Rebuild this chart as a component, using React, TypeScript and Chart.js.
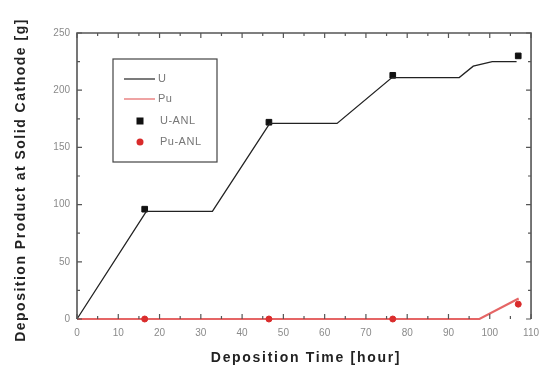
import React, { useEffect, useRef } from "react";
import { Chart, registerables } from "chart.js";

Chart.register(...registerables);

const uTime = [0, 16.8, 32.8, 46.7, 63, 76.3, 92.6, 96, 100.6, 106.5];
const uMass = [0, 94, 94, 171, 171, 211, 211, 221, 225, 225];
const puTime = [0, 97.5, 107];
const puMass = [0, 0, 18];
const anlTime = [16.4, 46.5, 76.5, 106.9];
const uAnl = [96, 172, 213, 230];
const puAnl = [0, 0, 0, 13];
const xTicks = [0, 10, 20, 30, 40, 50, 60, 70, 80, 90, 100, 110];
const yTicks = [0, 50, 100, 150, 200, 250];
const xTitle = "Deposition Time [hour]";
const yTitle = "Deposition Product at Solid Cathode [g]";

const FONT = "'Liberation Sans', Arial, sans-serif";

const zip = (xs: number[], ys: number[]) => xs.map((x, i) => ({ x, y: ys[i] }));

const framePlugin = {
  id: "frame",
  afterDatasetsDraw(chart: any) {
    const { ctx, chartArea: a, scales } = chart;
    const xs = scales.x;
    const ys = scales.y;
    ctx.save();
    ctx.strokeStyle = "#555";
    ctx.lineWidth = 1.2;
    ctx.beginPath();
    for (let v = 0; v <= 110; v += 5) {
      const px = xs.getPixelForValue(v);
      const len = v % 10 === 0 ? 5 : 3;
      ctx.moveTo(px, a.bottom);
      ctx.lineTo(px, a.bottom - len);
      ctx.moveTo(px, a.top);
      ctx.lineTo(px, a.top + len);
    }
    for (let v = 0; v <= 250; v += 25) {
      const py = ys.getPixelForValue(v);
      const len = v % 50 === 0 ? 5 : 3;
      ctx.moveTo(a.left, py);
      ctx.lineTo(a.left + len, py);
      ctx.moveTo(a.right, py);
      ctx.lineTo(a.right - len, py);
    }
    ctx.stroke();
    ctx.lineWidth = 1.6;
    ctx.beginPath();
    ctx.moveTo(a.left, a.bottom);
    ctx.lineTo(a.left, a.top);
    ctx.lineTo(a.right, a.top);
    ctx.lineTo(a.right, a.bottom);
    ctx.stroke();
    ctx.restore();
  },
  afterDraw(chart: any) {
    const { ctx, chartArea: a } = chart;
    ctx.save();
    ctx.fillStyle = "#222";
    ctx.font = `bold 14px ${FONT}`;
    (ctx as any).letterSpacing = "1.7px";
    ctx.textAlign = "center";
    ctx.textBaseline = "middle";
    ctx.fillText(xTitle, 306, 358);
    (ctx as any).letterSpacing = "1.5px";
    ctx.translate(21, 180);
    ctx.rotate(-Math.PI / 2);
    ctx.fillText(yTitle, 0, 0);
    ctx.restore();

    ctx.save();
    const bx = 113, by = 59, bw = 104, bh = 103;
    ctx.strokeStyle = "#444";
    ctx.lineWidth = 1.2;
    ctx.strokeRect(bx, by, bw, bh);
    const rows = [79, 99, 121, 142];
    ctx.font = `11px ${FONT}`;
    (ctx as any).letterSpacing = "0.5px";
    ctx.textBaseline = "middle";
    ctx.textAlign = "left";
    chart.data.datasets.forEach((ds: any, i: number) => {
      const y = rows[i];
      if (ds.showLine) {
        ctx.strokeStyle = ds.borderColor;
        ctx.lineWidth = 1.2;
        ctx.beginPath();
        ctx.moveTo(124, y);
        ctx.lineTo(155, y);
        ctx.stroke();
        ctx.fillStyle = "#777";
        ctx.fillText(ds.label, 158, y);
      } else {
        ctx.fillStyle = ds.backgroundColor;
        if (ds.pointStyle === "rect") {
          ctx.fillRect(136.5, y - 3.5, 7, 7);
        } else {
          ctx.beginPath();
          ctx.arc(140, y, 3.5, 0, Math.PI * 2);
          ctx.fill();
        }
        ctx.fillStyle = "#777";
        ctx.fillText(ds.label, 160, y);
      }
    });
    ctx.restore();
  },
};

export default function App() {
  const ref = useRef<HTMLCanvasElement>(null);
  useEffect(() => {
    document.body.style.margin = "0";
    const chart = new Chart(ref.current as HTMLCanvasElement, {
      type: "scatter",
      data: {
        datasets: [
          {
            label: "U",
            data: zip(uTime, uMass),
            showLine: true,
            borderColor: "#222",
            borderWidth: 1.3,
            pointRadius: 0,
            clip: 6,
          } as any,
          {
            label: "Pu",
            data: zip(puTime, puMass),
            showLine: true,
            borderColor: "rgba(220,50,50,0.75)",
            borderWidth: 2.2,
            pointRadius: 0,
            clip: 6,
          },
          {
            label: "U-ANL",
            data: zip(anlTime, uAnl),
            showLine: false,
            pointStyle: "rect",
            pointRadius: 4,
            backgroundColor: "#111",
            borderColor: "#111",
            clip: 8,
          },
          {
            label: "Pu-ANL",
            data: zip(anlTime, puAnl),
            showLine: false,
            pointStyle: "circle",
            pointRadius: 3,
            backgroundColor: "#d92b2b",
            borderColor: "#d92b2b",
            clip: 8,
          },
        ],
      },
      options: {
        animation: false,
        responsive: false,
        layout: { padding: { top: 33, right: 12, left: 0, bottom: 0 } },
        plugins: { legend: { display: false }, tooltip: { enabled: false } },
        scales: {
          x: {
            type: "linear",
            min: 0,
            max: 110,
            grid: { display: false, drawTicks: false },
            border: { display: false },
            afterBuildTicks: (s: any) => {
              s.ticks = xTicks.map((v) => ({ value: v }));
            },
            afterFit: (s: any) => {
              s.height = 51;
            },
            ticks: {
              color: "#8a8a8a",
              font: { family: FONT, size: 10 },
              padding: 8,
              maxRotation: 0,
              autoSkip: false,
            },
          },
          y: {
            type: "linear",
            min: 0,
            max: 250,
            grid: { display: false, drawTicks: false },
            border: { display: false },
            afterBuildTicks: (s: any) => {
              s.ticks = yTicks.map((v) => ({ value: v }));
            },
            afterFit: (s: any) => {
              s.width = 77;
            },
            ticks: {
              color: "#8a8a8a",
              font: { family: FONT, size: 10 },
              padding: 7,
              autoSkip: false,
            },
          },
        },
      },
      plugins: [framePlugin],
    });
    return () => chart.destroy();
  }, []);
  return <canvas ref={ref} width={547} height={370} style={{ display: "block" }} />;
}
